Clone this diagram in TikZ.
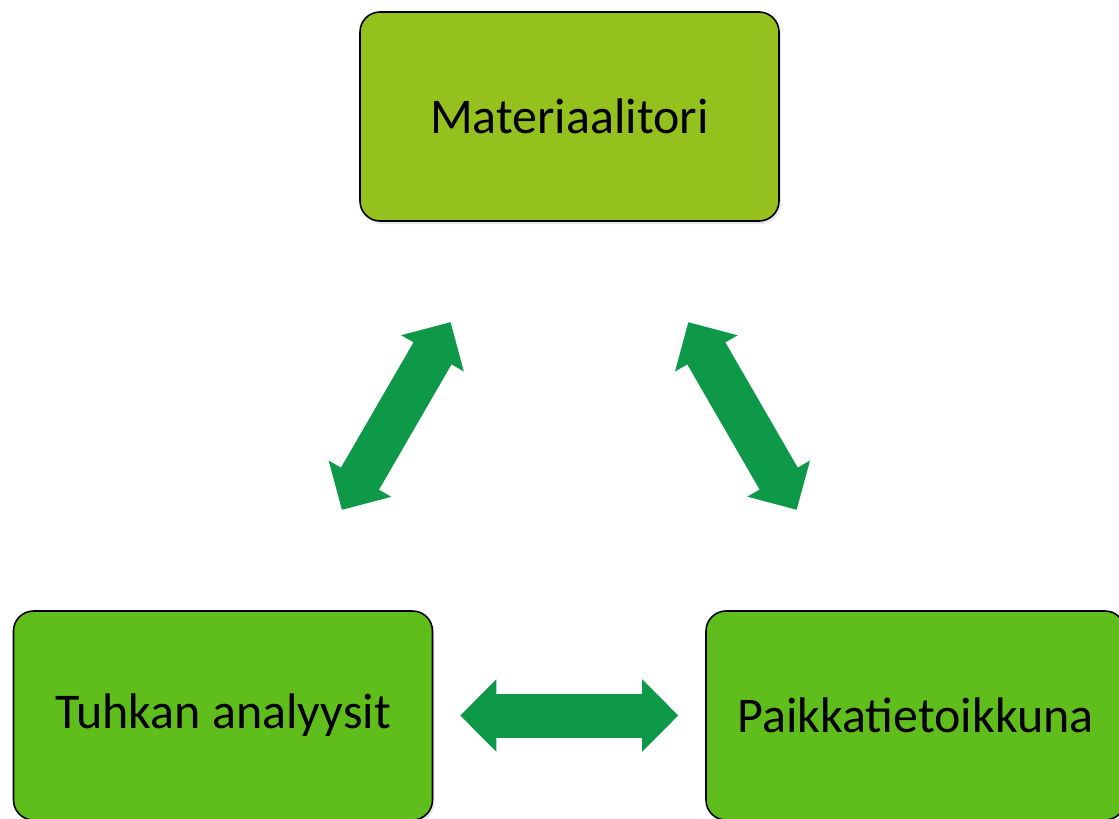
\documentclass[tikz,border=0pt]{standalone}
\usepackage{fontspec}
\setmainfont{Carlito}
\usepackage{tikz}
\usetikzlibrary{arrows.meta,shadows}
\definecolor{topgreen}{HTML}{95C11F}
\definecolor{boxgreen}{HTML}{60BE1C}
\definecolor{arrowgreen}{HTML}{0E9948}

\begin{document}
\begin{tikzpicture}[x=0.5pt, y=-0.5pt,
    box/.style={draw=black, line width=0.8pt, rounded corners=10pt,
      minimum width=209.5pt, minimum height=104.5pt, inner sep=0pt,
      font=\fontsize{25}{30}\selectfont,
      drop shadow={opacity=0.2, shadow xshift=1pt, shadow yshift=-1.5pt}},
    bigtip/.tip={Triangle[length=18pt, width=36pt, line width=1pt]},
    link/.style={draw=arrowgreen, line width=22pt, bigtip-bigtip,
      shorten <=#1, shorten >=#1}]
    \clip (0,0) rectangle (1119,819);
    \node[box, fill=topgreen] (a) at (569.5, 116.5) {Materiaalitori};
    \node[box, fill=boxgreen] (b) at (223, 715.5) {Tuhkan analyysit};
    \node[box, fill=boxgreen] (c) at (915.5, 715.5) {Paikkatietoikkuna};
    \draw [link=58pt] (a.240) to (b.60);
    \draw [link=58pt] (a.300) to (c.120);
    \draw [link=13.5pt] (b) to (c);
  \end{tikzpicture}
\end{document}
